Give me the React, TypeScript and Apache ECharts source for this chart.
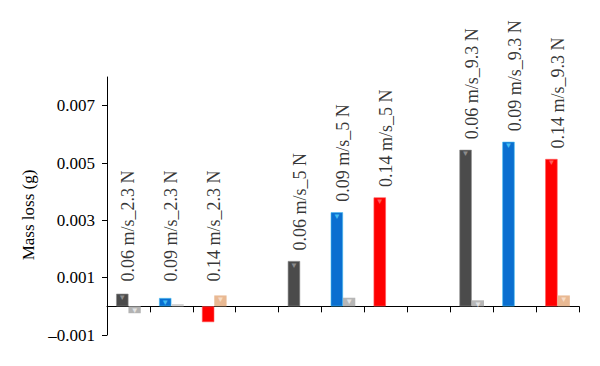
import React, { useEffect, useRef } from "react";
import * as echarts from "echarts";

const categories = [
  "0.06 m/s_2.3 N",
  "0.09 m/s_2.3 N",
  "0.14 m/s_2.3 N",
  "",
  "0.06 m/s_5 N",
  "0.09 m/s_5 N",
  "0.14 m/s_5 N",
  "",
  "0.06 m/s_9.3 N",
  "0.09 m/s_9.3 N",
  "0.14 m/s_9.3 N",
];
const mainValues: (number | null)[] = [
  0.00044, 0.00029, -0.00055, null, 0.00158, 0.00328, 0.0038, null, 0.00546,
  0.00574, 0.00514,
];
const subValues: (number | null)[] = [
  -0.00024, 0.00008, 0.00038, null, 0, 0.0003, 0, null, 0.00021, 0, 0.00038,
];
const mainColors = [
  "#4b4b4b", "#0a6fd0", "#ff0000", "#ffffff",
  "#4b4b4b", "#0a6fd0", "#ff0000", "#ffffff",
  "#4b4b4b", "#0a6fd0", "#ff0000",
];
const mainTopColors = [
  "#8c8c8c", "#45bdf2", "#ff5a5a", "#ffffff",
  "#8c8c8c", "#45bdf2", "#ff5a5a", "#ffffff",
  "#8c8c8c", "#45bdf2", "#ff5a5a",
];
const subColors = [
  "#b3b3b3", "#d4d4d4", "#e9b993", "#ffffff",
  "#b7b7b7", "#b7b7b7", "#e9b993", "#ffffff",
  "#b7b7b7", "#b7b7b7", "#e9b993",
];
const subTopColors = [
  "#e4e4e4", "#ececec", "#f7dcc6", "#ffffff",
  "#e4e4e4", "#e4e4e4", "#f7dcc6", "#ffffff",
  "#e4e4e4", "#e4e4e4", "#f7dcc6",
];
const yTicks = [-0.001, 0.001, 0.003, 0.005, 0.007];
const LABEL_FLOOR = 0.0005;

const FONT = "Liberation Serif";

export default function App() {
  const ref = useRef<HTMLDivElement>(null);
  useEffect(() => {
    if (!ref.current) return;
    const chart = echarts.init(ref.current, null, { renderer: "svg" });
    const fmt = (v: number) =>
      v < 0 ? "\u2013" + Math.abs(v).toFixed(3) : v.toFixed(3);

    const mainData = mainValues.map((v, i) =>
      v == null
        ? null
        : {
            value: v,
            itemStyle: {
              color: mainColors[i],
              borderColor: mainTopColors[i],
              borderWidth: 0.6,
            },
            label: {
              show: v > 0,
              color: mainTopColors[i],
            },
          }
    );
    const subData = subValues.map((v, i) =>
      v == null
        ? null
        : {
            value: v,
            itemStyle: { color: subColors[i] },
            label: { show: v !== 0 && Math.abs(v) > 0.00015, color: subTopColors[i] },
          }
    );
    const labelData = mainValues.map((v, i) =>
      v == null ? null : [i, Math.max(v, LABEL_FLOOR)]
    );

    chart.setOption({
      animation: false,
      grid: { left: 107, right: 21, top: 77, bottom: 31 },
      xAxis: {
        type: "category",
        data: categories,
        boundaryGap: true,
        axisLine: { onZero: true, lineStyle: { color: "#000", width: 1 } },
        axisTick: {
          show: true,
          interval: 0,
          length: 6,
          lineStyle: { color: "#000" },
        },
        axisLabel: { show: false },
        splitLine: { show: false },
      },
      yAxis: {
        type: "value",
        min: -0.001,
        max: 0.008,
        interval: 0.002,
        name: "Mass loss (g)",
        nameLocation: "middle",
        nameGap: 65,
        nameTextStyle: {
          fontFamily: FONT,
          fontSize: 17,
          color: "#000",
          padding: [0, 18, 0, 0],
        },
        axisLine: { show: true, lineStyle: { color: "#000", width: 1 } },
        axisTick: {
          show: true,
          length: 5,
          customValues: yTicks,
          lineStyle: { color: "#000" },
        },
        axisLabel: {
          customValues: yTicks,
          formatter: fmt,
          fontFamily: FONT,
          fontSize: 17,
          color: "#000",
          margin: 12,
        },
        splitLine: { show: false },
      },
      series: [
        {
          type: "bar",
          data: mainData,
          barWidth: 12.3,
          barGap: "0%",
          label: {
            show: true,
            position: "insideTop",
            distance: 0,
            formatter: "\u25BC",
            fontSize: 8,
          },
        },
        {
          type: "bar",
          data: subData,
          barWidth: 12.3,
          barGap: "0%",
          label: {
            show: true,
            position: "insideTop",
            distance: 0,
            formatter: "\u25BC",
            fontSize: 8,
          },
        },
        {
          type: "scatter",
          data: labelData,
          symbolSize: 1,
          itemStyle: { color: "rgba(0,0,0,0)" },
          label: {
            show: true,
            position: "top",
            distance: 12,
            rotate: 90,
            align: "left",
            verticalAlign: "middle",
            offset: [-2, 0],
            formatter: (p: any) => categories[p.data[0]],
            fontFamily: FONT,
            fontSize: 18,
            color: "#000",
          },
        },
      ],
    });
    return () => chart.dispose();
  }, []);
  return (
    <div
      ref={ref}
      style={{ position: "absolute", left: 0, top: 0, width: 600, height: 366 }}
    />
  );
}
